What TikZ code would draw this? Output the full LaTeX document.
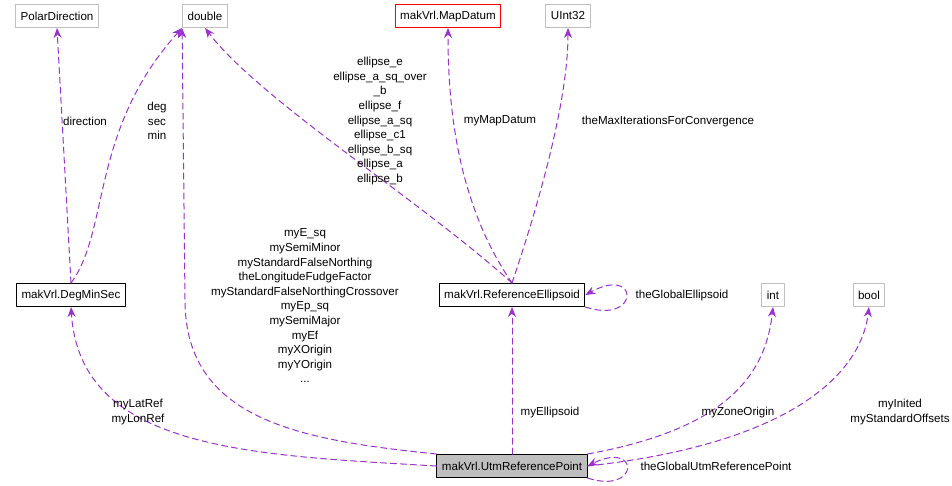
\documentclass[tikz,border=0pt]{standalone}
\usepackage{fontspec}
\setmainfont{Liberation Sans}
\usetikzlibrary{arrows.meta}
\definecolor{edgecol}{HTML}{9A32CD}
\definecolor{boxgray}{HTML}{BFBFBF}
\begin{document}
\begin{tikzpicture}[x=1pt,y=-1pt,line cap=round,line join=round,line width=1pt,
  cls/.style={draw=black,fill=white,minimum height=23pt,inner xsep=5pt,font=\fontsize{11.6}{14}\selectfont},
  ext/.style={cls,draw=boxgray},
  rel/.style={draw=edgecol,dashed,dash pattern=on 6pt off 4pt,-{Stealth[length=10pt,width=8pt]}},
  lab/.style={font=\fontsize{11.6}{14.6}\selectfont,align=center,inner sep=0pt}]
\useasboundingbox (0,0) rectangle (952,485);
%% classes
\node[ext] (polar) at (57,16) {PolarDirection};
\node[ext] (dbl) at (205,16) {double};
\node[cls,draw=red] (datum) at (448,16) {makVrl.MapDatum};
\node[ext] (uint) at (568,16) {UInt32};
\node[cls] (dms) at (71,295) {makVrl.DegMinSec};
\node[cls] (ell) at (512,295) {makVrl.ReferenceEllipsoid};
\node[ext] (int) at (773,295) {int};
\node[ext] (bool) at (869,295) {bool};
\node[cls,fill=boxgray] (utm) at (512,466) {makVrl.UtmReferencePoint};
%% relations
\draw[rel] (dms.north) -- (polar.south);
\draw[lab] (85,121) node {direction};
\draw[rel] (dms.north) .. controls (110,230) and (90,130) .. (dbl.south west);
\draw[lab] (157,121) node {deg\\sec\\min};
\draw[rel] (ell.north) .. controls (420,200) and (260,100) .. (dbl.south);
\draw[lab] (380,121) node {ellipse\_e\\ellipse\_a\_sq\_over\\\_b\\ellipse\_f\\ellipse\_a\_sq\\ellipse\_c1\\ellipse\_b\_sq\\ellipse\_a\\ellipse\_b};
\draw[rel] (ell.north) .. controls (455,200) and (448,100) .. (datum.south);
\draw[lab] (500,121) node {myMapDatum};
\draw[rel] (ell.north) .. controls (540,200) and (568,100) .. (uint.south);
\draw[lab] (668,121) node {theMaxIterationsForConvergence};
\draw[rel] (ell.south east) .. controls (640,325) and (640,265) .. (ell.east);
\draw[lab] (682,295) node {theGlobalEllipsoid};
\draw[rel] (utm.west) .. controls (250,455) and (80,450) .. (dms.south);
\draw[lab] (138,412) node {myLatRef\\myLonRef};
\draw[rel] (utm.north west) .. controls (300,440) and (185,420) .. (185,300) -- (dbl.south west);
\draw[lab] (305,306) node {myE\_sq\\mySemiMinor\\myStandardFalseNorthing\\theLongitudeFudgeFactor\\myStandardFalseNorthingCrossover\\myEp\_sq\\mySemiMajor\\myEf\\myXOrigin\\myYOrigin\\...};
\draw[rel] (utm.north) -- (ell.south);
\draw[lab] (550,412) node {myEllipsoid};
\draw[rel] (utm.north east) .. controls (720,430) and (765,380) .. (int.south);
\draw[lab] (738,412) node {myZoneOrigin};
\draw[rel] (utm.east) .. controls (780,445) and (860,380) .. (bool.south);
\draw[lab] (900,412) node {myInited\\myStandardOffsets};
\draw[rel] (utm.south east) .. controls (640,495) and (640,440) .. (utm.east);
\draw[lab] (716,466) node {theGlobalUtmReferencePoint};
\end{tikzpicture}
\end{document}
